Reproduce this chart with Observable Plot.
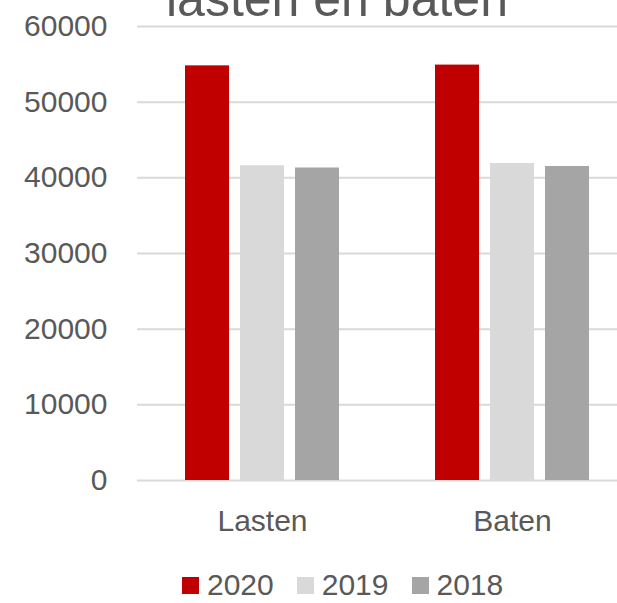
<!DOCTYPE html>
<html><head><meta charset="utf-8">
<script src="https://cdn.jsdelivr.net/npm/d3@7"></script>
<script src="https://cdn.jsdelivr.net/npm/@observablehq/plot@0.6"></script>
<style>
body{margin:0;background:#fff;}
#wrap{position:relative;width:617px;height:603px;overflow:hidden;font-family:"Liberation Sans",Arial,sans-serif;color:#595959;background:#fff;}
#title{position:absolute;left:166px;top:-26px;font-size:50px;line-height:50px;white-space:nowrap;}
#chart{position:absolute;left:0;top:0;width:640px;}
#chart svg{max-width:none !important;}
#legend{position:absolute;left:182px;top:573px;height:24px;display:flex;align-items:center;font-size:30px;line-height:24px;}
.item{display:flex;align-items:center;margin-right:23px;}
.sw{width:17px;height:17px;margin-right:8px;}
</style>
</head><body>
<div id="wrap">
  <div id="chart"></div>
  <div id="title">lasten en baten</div>
  <div id="legend"></div>
</div>
<script>
const groups = ["Lasten", "Baten"];
const years = ["2020", "2019", "2018"];
const v2020 = [54800, 54900];
const v2019 = [41600, 41900];
const v2018 = [41300, 41500];
const colors = ["#C00000", "#D9D9D9", "#A5A5A5"];
const yTicks = [0, 10000, 20000, 30000, 40000, 50000, 60000];

const series = {"2020": v2020, "2019": v2019, "2018": v2018};
const data = groups.flatMap((g, i) => years.map(y => ({group: g, year: y, value: series[y][i]})));

const chart = Plot.plot({
  width: 640,
  height: 545,
  marginLeft: 137,
  marginRight: 3,
  marginTop: 26,
  marginBottom: 65,
  style: {fontFamily: "'Liberation Sans', Arial, sans-serif", fontSize: "30px", color: "#595959", background: "transparent", overflow: "visible", maxWidth: "none"},
  fx: {domain: groups, padding: 0, label: null, tickSize: 0, tickPadding: 29, axis: "bottom"},
  x: {domain: years, axis: null, paddingInner: 0.207, paddingOuter: 0.856},
  y: {domain: [0, 60000], ticks: yTicks, tickFormat: d => String(d), tickSize: 0, tickPadding: 30, label: null},
  color: {domain: years, range: colors},
  marks: [
    Plot.gridY(yTicks, {stroke: "#D9D9D9", strokeOpacity: 1, strokeWidth: 2}),
    Plot.barY(data, {fx: "group", x: "year", y: "value", fill: "year"})
  ]
});
document.getElementById("chart").appendChild(chart);

const legend = document.getElementById("legend");
years.forEach((y, i) => {
  const item = document.createElement("div");
  item.className = "item";
  const sw = document.createElement("div");
  sw.className = "sw";
  sw.style.background = colors[i];
  const t = document.createElement("span");
  t.textContent = y;
  item.appendChild(sw);
  item.appendChild(t);
  legend.appendChild(item);
});
</script>
</body></html>
